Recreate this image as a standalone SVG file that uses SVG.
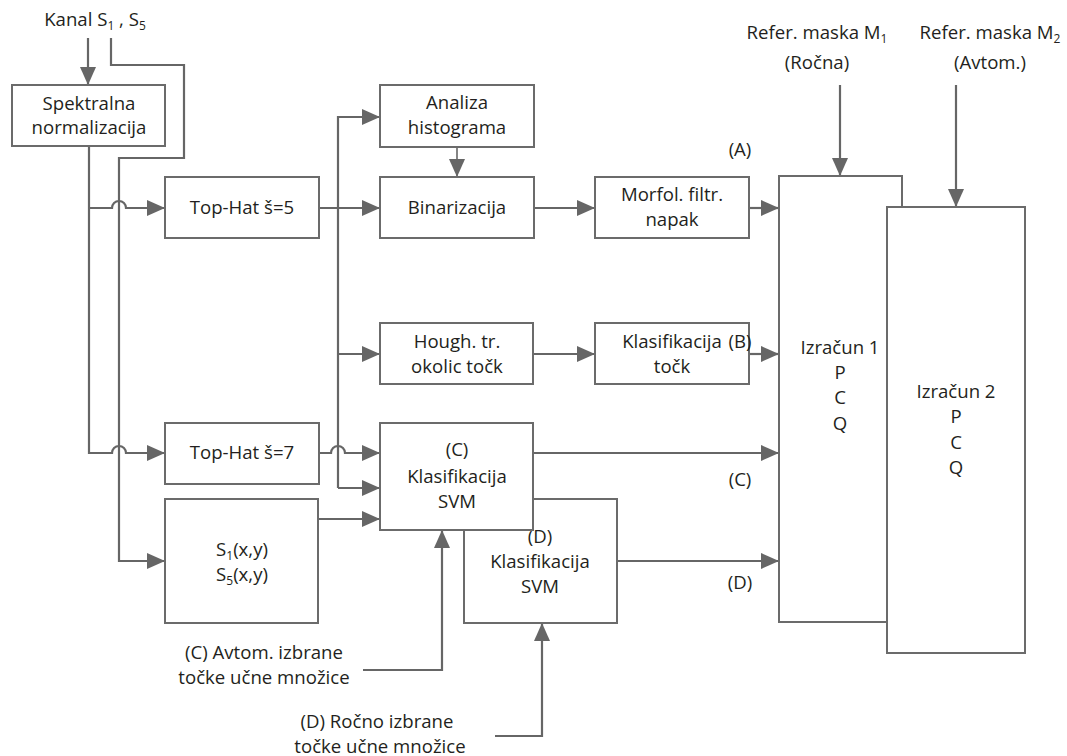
<svg xmlns="http://www.w3.org/2000/svg" width="1067" height="756" viewBox="0 0 1067 756">
<defs>
<marker id="ah" markerUnits="userSpaceOnUse" markerWidth="18" markerHeight="16" refX="18" refY="8" orient="auto">
<path d="M0,0 L18,8 L0,16 z" fill="#666"/>
</marker>
<style>
.b{fill:#fff;stroke:#6b6b6b;stroke-width:2}
.c{fill:none;stroke:#666;stroke-width:2.2}
.a{marker-end:url(#ah)}
text{font-family:"Open Sans","Liberation Sans",sans-serif;font-size:18.6px;fill:#231f20;text-anchor:middle}
.s{font-size:12px}
</style>
</defs>
<rect width="1067" height="756" fill="#fff"/>

<g id="connectors">
<path class="c a" d="M88,38 V85"/>
<path class="c a" d="M111,38 V65 H184 V158 H119 V561 H165"/>
<path class="c a" d="M89,146 V453 H112 A7,7 0 0 1 126,453 H165"/>
<path class="c a" d="M89,208 H112 A7,7 0 0 1 126,208 H165"/>
<path class="c a" d="M319,208 H380"/>
<path class="c a" d="M338,488 V117 H380"/>
<path class="c a" d="M338,354 H380"/>
<path class="c a" d="M338,488 H380"/>
<path class="c a" d="M319,453 H331 A7,7 0 0 1 345,453 H380"/>
<path class="c a" d="M318,519 H380"/>
<path class="c a" d="M457,147 V177" style="stroke-width:1.6"/>
<path class="c a" d="M534,208 H595"/>
<path class="c a" d="M749,208 H779"/>
<path class="c a" d="M533,354 H595"/>
<path class="c a" d="M749,354 H779"/>
<path class="c a" d="M533,453 H779"/>
<path class="c a" d="M617,561 H779"/>
<path class="c a" d="M840,85 V176"/>
<path class="c a" d="M956,85 V207"/>
<path class="c a" d="M363,670 H442 V530"/>
<path class="c a" d="M495,736 H542 V623"/>
</g>

<g id="n-spektralna"><rect class="b" x="12" y="85" width="153" height="61"/><text x="89" y="110">Spektralna</text><text x="89" y="134">normalizacija</text></g>
<g id="n-tophat5"><rect class="b" x="165" y="177" width="154" height="61"/><text x="242" y="214">Top-Hat š=5</text></g>
<g id="n-tophat7"><rect class="b" x="165" y="423" width="154" height="61"/><text x="242" y="459">Top-Hat š=7</text></g>
<g id="n-s"><rect class="b" x="165" y="499" width="153" height="124"/>
<text x="242" y="556">S<tspan class="s" dy="4">1</tspan><tspan dy="-4">(x,y)</tspan></text>
<text x="242" y="581">S<tspan class="s" dy="4">5</tspan><tspan dy="-4">(x,y)</tspan></text></g>
<g id="n-analiza"><rect class="b" x="380" y="85" width="154" height="62"/><text x="457" y="109">Analiza</text><text x="457" y="134">histograma</text></g>
<g id="n-binarizacija"><rect class="b" x="380" y="177" width="154" height="61"/><text x="457" y="214">Binarizacija</text></g>
<g id="n-morfol"><rect class="b" x="595" y="177" width="154" height="61"/><text x="672" y="201">Morfol. filtr.</text><text x="672" y="226">napak</text></g>
<g id="n-hough"><rect class="b" x="380" y="323" width="153" height="61"/><text x="457" y="348">Hough. tr.</text><text x="457" y="373">okolic točk</text></g>
<g id="n-klastock"><rect class="b" x="595" y="323" width="154" height="61"/><text x="672" y="348">Klasifikacija</text><text x="672" y="373">točk</text></g>
<g id="n-svmd"><rect class="b" x="464" y="499" width="153" height="124"/><text x="540" y="543">(D)</text><text x="540" y="568">Klasifikacija</text><text x="540" y="593">SVM</text></g>
<g id="n-svmc"><rect class="b" x="380" y="423" width="153" height="107"/><text x="457" y="456">(C)</text><text x="457" y="483">Klasifikacija</text><text x="457" y="508">SVM</text></g>
<g id="n-izracun1"><rect class="b" x="779" y="176" width="123" height="446"/><text x="840" y="354">Izračun 1</text><text x="840" y="379">P</text><text x="840" y="404">C</text><text x="840" y="430">Q</text></g>
<g id="n-izracun2"><rect class="b" x="887" y="207" width="138" height="446"/><text x="956" y="398">Izračun 2</text><text x="956" y="423">P</text><text x="956" y="449">C</text><text x="956" y="474">Q</text></g>

<g id="labels">
<text x="95" y="26">Kanal S<tspan class="s" dy="4">1</tspan><tspan dy="-4"> , S</tspan><tspan class="s" dy="4">5</tspan></text>
<text x="817" y="39">Refer. maska M<tspan class="s" dy="4">1</tspan></text>
<text x="817" y="69">(Ročna)</text>
<text x="990" y="39">Refer. maska M<tspan class="s" dy="4">2</tspan></text>
<text x="990" y="69">(Avtom.)</text>
<text x="740" y="156">(A)</text>
<text x="740" y="348">(B)</text>
<text x="740" y="486">(C)</text>
<text x="740" y="589">(D)</text>
<text x="264" y="659">(C) Avtom. izbrane</text>
<text x="264" y="684">točke učne množice</text>
<text x="377" y="728">(D) Ročno izbrane</text>
<text x="380" y="753">točke učne množice</text>
</g>
</svg>
